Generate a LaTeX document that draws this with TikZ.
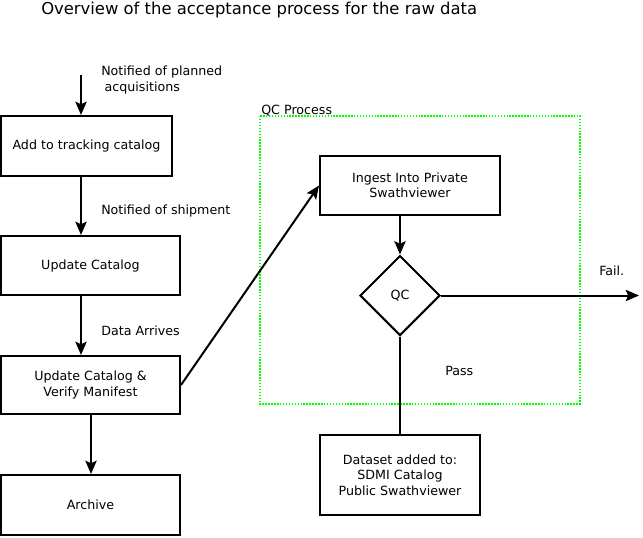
\documentclass[tikz,border=0pt]{standalone}
\usepackage{fontspec}
\setmainfont{DejaVu Sans}
\usetikzlibrary{arrows.meta,shapes.geometric}
\begin{document}
\begin{tikzpicture}[x=0.75pt,y=-0.75pt,
  box/.style={draw,line width=1.5pt,inner sep=0pt,align=center,font=\fontsize{9.5}{11.5}\selectfont},
  arr/.style={line width=1.5pt,-{Stealth[length=10pt,width=8.5pt,inset=2pt]}},
  plain/.style={line width=1.5pt},
  lbl/.style={anchor=west,inner sep=0pt,align=left,font=\fontsize{9.5}{11.5}\selectfont},
  qcbox/.style={draw=green,line width=1.5pt,dash pattern=on 1.1pt off 1.1pt}]
\useasboundingbox (0,0) rectangle (643,537);
\node[anchor=west,inner sep=0pt,font=\fontsize{12.3}{14}\selectfont] (title) at (41,10) {Overview of the acceptance process for the raw data};
\draw[qcbox] (260,116) rectangle (580,404);
\node[lbl] (qcl) at (261,111) {QC Process};
\node[box,minimum width=128.25pt,minimum height=45pt] (b1) at (86.5,146) {Add to tracking catalog};
\node[box,minimum width=134.25pt,minimum height=44.25pt] (b2) at (90.5,265.5) {Update Catalog};
\node[box,minimum width=134.25pt,minimum height=43.5pt] (b3) at (90.5,385) {Update Catalog \&\\Verify Manifest};
\node[box,minimum width=134.25pt,minimum height=45pt] (b4) at (90.5,505) {Archive};
\node[box,minimum width=135pt,minimum height=44.25pt] (ing) at (410,185.5) {Ingest Into Private\\Swathviewer};
\node[box,diamond,minimum width=60pt,minimum height=60pt] (qc) at (400,295.5) {QC};
\node[box,minimum width=120pt,minimum height=60pt] (ds) at (400,475) {Dataset added to:\\SDMI Catalog\\Public Swathviewer};
\coordinate (top) at (81,75);
\coordinate (xa) at (91,0);
\coordinate (fail) at (639,295.5);
\draw[arr] (top) -- (b1.north -| top);
\draw[arr] (b1.south -| top) -- (b2.north -| top);
\draw[arr] (b2.south -| top) -- (b3.north -| top);
\draw[arr] (b3.south -| xa) -- (b4.north -| xa);
\draw[arr] (b3.east) -- (ing.west);
\draw[arr] (ing.south -| qc.north) -- (qc.north);
\draw[arr] (qc.east) -- (fail);
\draw[plain] (qc.south) -- (ds.north);
\node[lbl] (l1) at (101,80) {Notified of planned\\\hspace*{2.5pt}acquisitions};
\node[lbl] (l2) at (101,211) {Notified of shipment};
\node[lbl] (l3) at (101,331) {Data Arrives};
\node[lbl] (l4) at (599,271) {Fail.};
\node[lbl] (l5) at (445,371) {Pass};
\end{tikzpicture}
\end{document}
